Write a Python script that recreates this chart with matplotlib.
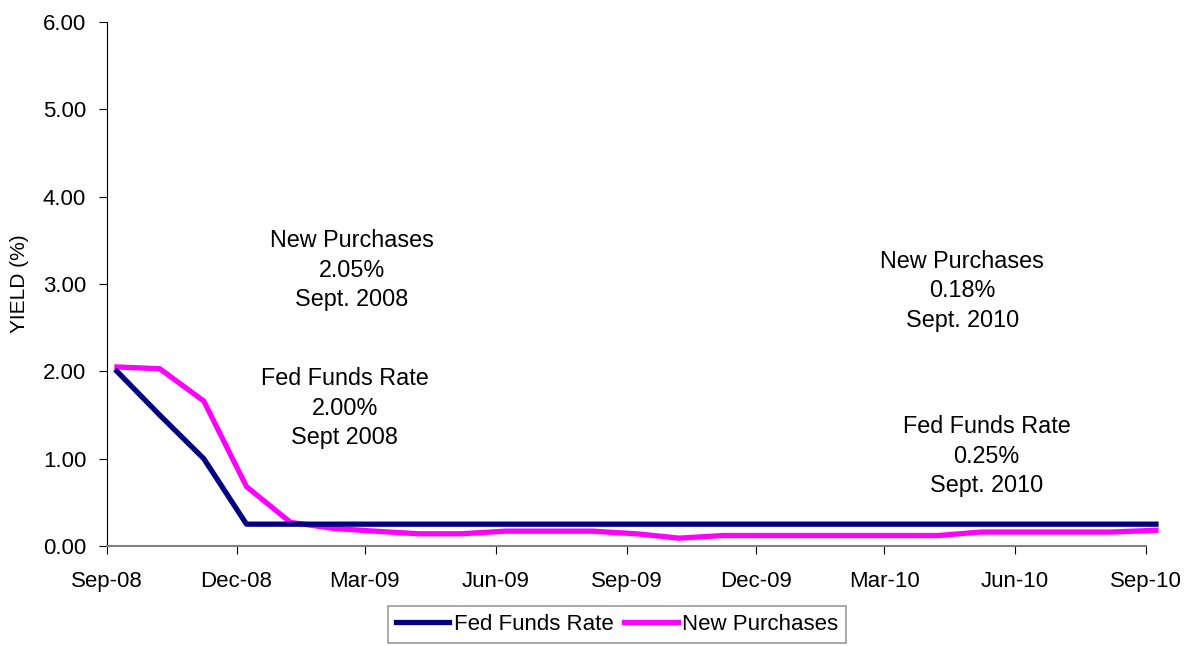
import numpy as np
import pandas as pd
import matplotlib
matplotlib.use('Agg')
import matplotlib.pyplot as plt
import matplotlib.dates as mdates

plt.rcParams['font.family'] = ['Liberation Sans', 'DejaVu Sans']

# Datos mensuales Sep-08 a Sep-10
fechas = pd.date_range('2008-09-01', periods=25, freq='MS') + pd.Timedelta(days=7)
fed_funds = [2.00, 1.50, 1.00, 0.25, 0.25, 0.25, 0.25, 0.25, 0.25, 0.25,
             0.25, 0.25, 0.25, 0.25, 0.25, 0.25, 0.25, 0.25, 0.25, 0.25,
             0.25, 0.25, 0.25, 0.25, 0.25]
new_purchases = [2.05, 2.03, 1.66, 0.68, 0.27, 0.20, 0.17, 0.14, 0.14, 0.17,
                 0.17, 0.17, 0.14, 0.09, 0.12, 0.12, 0.12, 0.12, 0.12, 0.12,
                 0.16, 0.16, 0.16, 0.16, 0.18]
ticks_x = pd.date_range('2008-09-01', '2010-09-01', freq='3MS')

fig = plt.figure(figsize=(11.95, 6.46), dpi=100)
ax = fig.add_axes([107/1195, 1-546/646, (1146-107)/1195, (546-22)/646])

ax.plot(fechas, fed_funds, color='#000080', lw=3.8, label='Fed Funds Rate', clip_on=False, zorder=3)
ax.plot(fechas, new_purchases, color='#FF00FF', lw=3.8, label='New Purchases', clip_on=False, zorder=2)

ax.set_ylim(0, 6)
ax.set_yticks(np.arange(0, 7, 1))
ax.yaxis.set_major_formatter(plt.FormatStrFormatter('%.2f'))
ax.set_xlim(pd.Timestamp('2008-09-01'), pd.Timestamp('2010-09-01'))
ax.set_xticks(ticks_x)
ax.xaxis.set_major_formatter(mdates.DateFormatter('%b-%y'))

for s in ['top', 'right']:
    ax.spines[s].set_visible(False)
ax.spines['left'].set_color('black')
ax.spines['bottom'].set_color('#808080')
ax.spines['bottom'].set_linewidth(1.5)
ax.tick_params(axis='both', direction='out', length=6, labelsize=16, color='black')
ax.tick_params(axis='x', pad=12)
ax.tick_params(axis='y', pad=9)

ax.set_ylabel('YIELD (%)', fontsize=15, labelpad=10)

# Anotaciones
fs_txt = 16.8
ax.text(pd.Timestamp('2009-02-20'), 3.16, 'New Purchases\n2.05%\nSept. 2008',
        ha='center', va='center', fontsize=fs_txt, linespacing=1.38)
ax.text(pd.Timestamp('2009-02-15'), 1.58, 'Fed Funds Rate\n2.00%\nSept 2008',
        ha='center', va='center', fontsize=fs_txt, linespacing=1.38)
ax.text(pd.Timestamp('2010-04-25'), 2.92, 'New Purchases\n0.18%\nSept. 2010',
        ha='center', va='center', fontsize=fs_txt, linespacing=1.38)
ax.text(pd.Timestamp('2010-05-12'), 1.03, 'Fed Funds Rate\n0.25%\nSept. 2010',
        ha='center', va='center', fontsize=fs_txt, linespacing=1.38)

leg = fig.legend(loc='upper center', bbox_to_anchor=(617/1195, 1-606/646), ncol=2,
                 fontsize=16, frameon=True, fancybox=False, handlelength=2.4,
                 handletextpad=0.2, columnspacing=0.5, borderpad=0.35, borderaxespad=0)
leg.get_frame().set_edgecolor('#808080')
leg.get_frame().set_linewidth(1.2)

fig.savefig('out.png', dpi=100)
